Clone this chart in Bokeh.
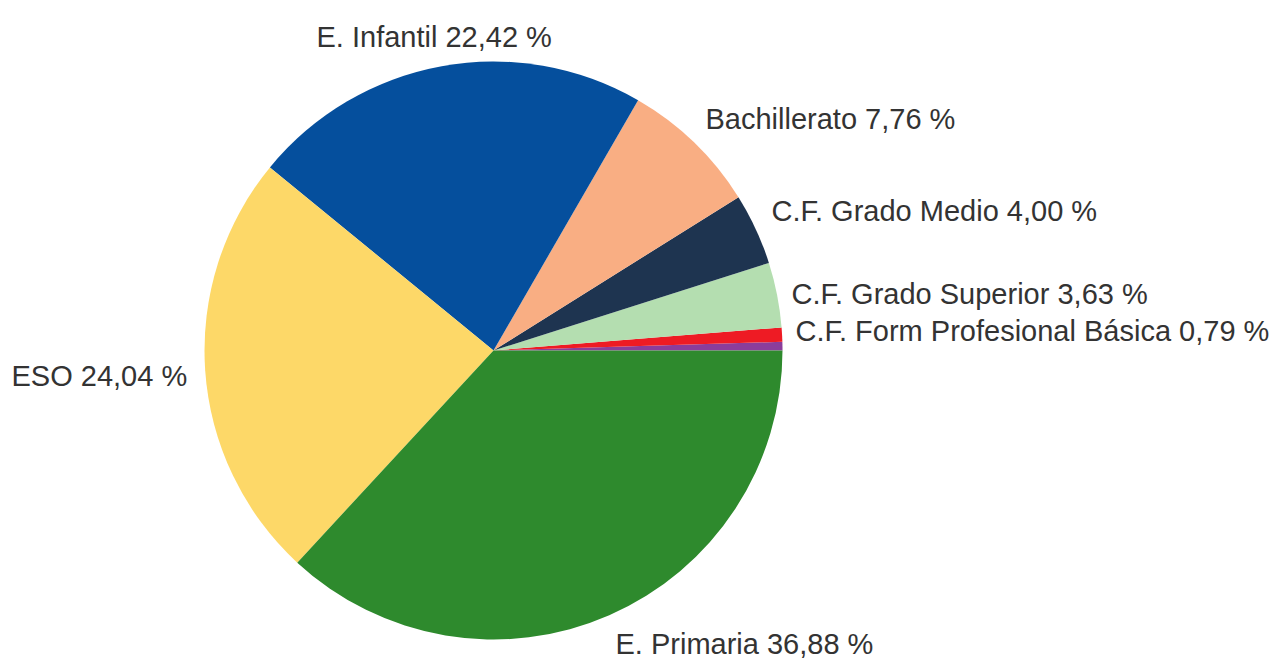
import math
from bokeh.plotting import figure
from bokeh.models import ColumnDataSource, Range1d
from bokeh.core.properties import value
from bokeh.embed import file_html
from bokeh.resources import INLINE

# ---- data (counter-clockwise from 3 o'clock) ----
categories = ["Otros", "C.F. Form Profesional Básica", "C.F. Grado Superior",
              "C.F. Grado Medio", "Bachillerato", "E. Infantil", "ESO", "E. Primaria"]
percent = [0.48, 0.79, 3.63, 4.00, 7.76, 22.42, 24.04, 36.88]
colors = ["#8b3d9b", "#ee1b24", "#b4deb0", "#1e3450", "#f9ae83", "#054f9d", "#fdd868", "#2e8a2d"]

label_texts = ["E. Infantil 22,42 %", "Bachillerato  7,76 %", "C.F. Grado Medio 4,00 %",
               "C.F. Grado Superior  3,63 %", "C.F. Form Profesional Básica 0,79 %",
               "ESO 24,04 %", "E. Primaria 36,88 %"]

# ---- layout ----
W, H = 1283, 659
CX, CY, R = 493, 350, 289          # pixel coords (y from top)
label_px = [316, 705, 771, 791, 795, 11, 615]
label_py = [36, 118, 210, 293, 330, 375, 643]

total = sum(percent)
starts, ends = [], []
acc = 0.0
for v in percent:
    starts.append(2 * math.pi * acc / total)
    acc += v
    ends.append(2 * math.pi * acc / total)

src = ColumnDataSource(dict(cat=categories, start=starts, end=ends, color=colors))

p = figure(width=W, height=H, output_backend="svg", toolbar_location=None,
           x_range=Range1d(0, W), y_range=Range1d(0, H), min_border=0)
p.axis.visible = False
p.grid.visible = False
p.outline_line_color = None
p.background_fill_color = "white"
p.border_fill_color = "white"

p.wedge(x=CX, y=H - CY, radius=R, start_angle="start", end_angle="end",
        direction="anticlock", fill_color="color", line_color=None, source=src)

lsrc = ColumnDataSource(dict(x=label_px, y=[H - v for v in label_py], t=label_texts))
p.text(x="x", y="y", text="t", source=lsrc, text_font=value("Liberation Sans"),
       text_font_size="29px", text_color="#333333", text_align="left",
       text_baseline="middle")

open("out.html", "w").write(file_html(p, INLINE))
